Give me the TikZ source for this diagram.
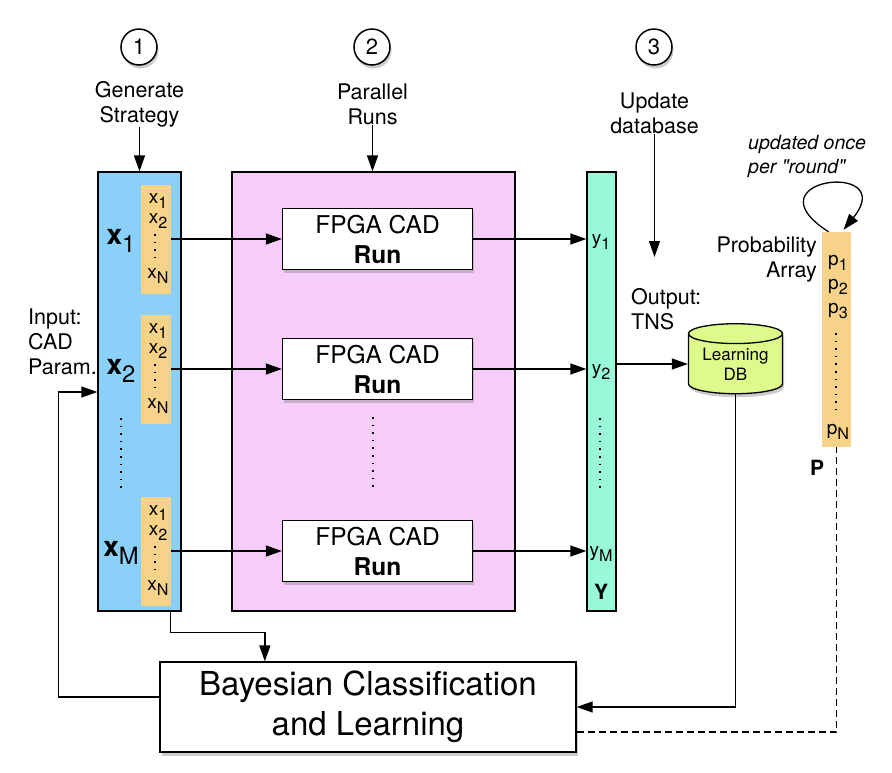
\documentclass[tikz,border=0pt]{standalone}
\usepackage{fontspec}
\setmainfont{TeX Gyre Heros}
\usetikzlibrary{arrows.meta,shapes.geometric,shadows,calc}

\definecolor{xblue}{RGB}{138,208,248}
\definecolor{runpink}{RGB}{245,205,248}
\definecolor{ygreen}{RGB}{153,248,216}
\definecolor{stripcol}{RGB}{247,211,137}
\definecolor{dbcol}{RGB}{222,250,138}

\newcommand{\idx}[2]{#1\raisebox{-0.5ex}{\scalebox{0.85}{#2}}}

\begin{document}
\begin{tikzpicture}[x=1pt,y=-1pt,
	arr/.style={-{Triangle[length=16pt,width=11pt]},line width=1.3pt},
	lbl/.style={font=\fontsize{21.5}{25}\selectfont,align=center,inner sep=0pt},
	small/.style={font=\fontsize{19}{19}\selectfont,inner sep=0pt},
	softshadow/.style={drop shadow={opacity=0.4,shadow xshift=1.5pt,shadow yshift=-3.5pt}},
	stepnum/.style={circle,draw,fill=white,line width=1.5pt,minimum size=36pt,inner sep=0pt,font=\fontsize{22}{22}\selectfont,softshadow},
	column/.style={draw,line width=1.3pt,minimum height=439pt,inner sep=0pt},
	stripbox/.style={fill=stripcol,minimum width=30pt,inner sep=0pt},
	cadbox/.style={draw,fill=white,line width=1.3pt,minimum width=190pt,minimum height=61pt,inner sep=0pt,align=center,font=\fontsize{24.5}{30}\selectfont,softshadow},
	vdots/.style={line width=1.6pt,dash pattern=on 1.6pt off 6pt}]

	\useasboundingbox (0,0) rectangle (892,772);

	% steps
	\node[stepnum] (s1) at (139,47) {1};
	\node[stepnum] (s2) at (372,47) {2};
	\node[stepnum] (s3) at (654,47) {3};
	\node[lbl] (gen) at (139.5,104) {Generate\\Strategy};
	\node[lbl] (par) at (372.5,104) {Parallel\\Runs};
	\node[lbl] (upd) at (654.5,113) {Update\\database};

	% columns
	\node[column,fill=xblue,minimum width=83pt] (xcol) at (139.5,391.5) {};
	\node[column,fill=runpink,minimum width=283pt] (runs) at (373.5,391.5) {};
	\node[column,fill=ygreen,minimum width=29pt] (ycol) at (601.5,391.5) {};

	\draw[arr] (gen) -- (gen |- xcol.north);
	\draw[arr] (par) -- (par |- runs.north);

	\foreach \n/\yc in {1/239,2/369,M/551}{
		\node[stripbox,minimum height=109pt] (xs\n) at (156,\yc) {};
		\node[small] (xs\n-1) at (158,\yc-38) {\idx{x}{1}};
		\node[small] (xs\n-2) at (158,\yc-18) {\idx{x}{2}};
		\node[small] (xs\n-N) at (158,\yc+37) {\idx{x}{N}};
		\draw[vdots] (155,\yc-5) -- (155,\yc+19);
		\node[font=\fontsize{28}{28}\selectfont,inner sep=0pt] (X\n) at (121,\yc+2) {\idx{\textbf{x}}{\n}};
		\node[cadbox] (run\n) at (377.5,\yc) {FPGA CAD\\\textbf{Run}};
		\node[small] (y\n) at (601,\yc+3) {\idx{y}{\n}};
		\draw[arr] (xs\n) -- (run\n);
		\draw[arr] (run\n) -- (run\n -| ycol.west);
	}

	\draw[vdots] (121,418) -- (121,492);
	\draw[vdots] (373,417) -- (373,492);
	\draw[vdots] (600,418) -- (600,493);
	\node[font=\bfseries\fontsize{21}{21}\selectfont,inner sep=0pt] (ylab) at (601,592) {Y};

	% database
	\node[lbl,anchor=west,align=left] (tns) at (631,309) {Output:\\TNS};
	\node[cylinder,shape border rotate=90,shape aspect=0.3,draw,fill=dbcol,line width=1.3pt,minimum width=94pt,minimum height=70pt,inner sep=0pt,font=\fontsize{17}{20}\selectfont,align=center,softshadow] (db) at (735.5,364) {Learning\\DB};
	\coordinate (updend) at (654.5,257);
	\draw[arr] (upd) -- (updend);
	\draw[arr] (ycol.east |- db.west) -- (db.west);

	% learning
	\node[draw,fill=white,line width=1.3pt,minimum width=416pt,minimum height=90pt,inner sep=0pt,font=\fontsize{33}{40}\selectfont,align=center,softshadow] (bayes) at (368,707) {Bayesian Classification\\and Learning};
	\draw[arr] (db.south) |- (bayes.east);
	\coordinate (xout) at ($(xcol.south)+(31,0)$);
	\draw[arr] (xout) -- ++(0,21) -| ($(bayes.north west)+(105.5,0)$);
	\coordinate (fbk) at (58.5,392);
	\draw[arr] ($(bayes.west)+(0,-10)$) -| (fbk) -- (fbk -| xcol.west);
	\node[lbl,anchor=west,align=left] (inp) at (28,342) {Input:\\CAD\\Param.};

	% probability array
	\node[stripbox,minimum width=29pt,minimum height=215pt] (parr) at (836.5,339.5) {};
	\node[small] (p1) at (838,263) {\idx{p}{1}};
	\node[small] (p2) at (838,287) {\idx{p}{2}};
	\node[small] (p3) at (838,311) {\idx{p}{3}};
	\node[small] (pN) at (838,432) {\idx{p}{N}};
	\draw[vdots] (836,333) -- (836,410);
	\node[lbl,anchor=east,align=right] (prob) at (817,260) {Probability\\Array};
	\node[font=\bfseries\fontsize{21}{21}\selectfont,inner sep=0pt] (plab) at (817,468) {P};
	\node[lbl,font=\itshape\fontsize{19.5}{24}\selectfont,anchor=west,align=left] (once) at (748,156) {updated once\\per \textquotedbl round\textquotedbl};
	\draw[arr] ($(parr.north)+(-8,0)$) .. controls (745,178) and (900,160) .. ($(parr.north)+(7,-2)$);
	\draw[line width=1.3pt,dash pattern=on 7pt off 4pt] ($(bayes.east)+(0,25)$) -| (parr.south);

\end{tikzpicture}
\end{document}
